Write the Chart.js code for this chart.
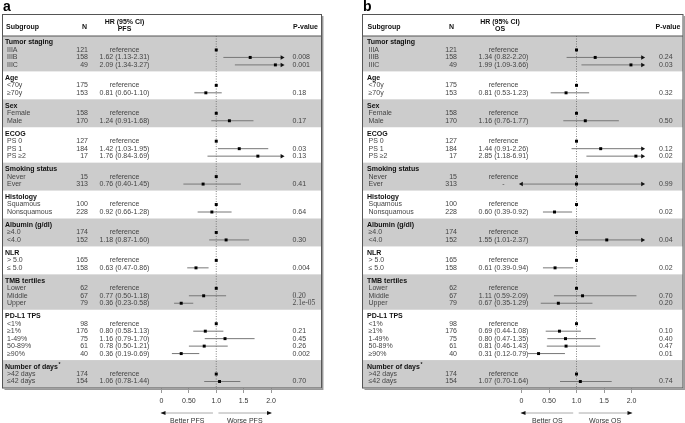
<html>
<head>
<meta charset="utf-8">
<script src="https://cdn.jsdelivr.net/npm/chart.js@4/dist/chart.umd.min.js"></script>
<style>
  *{padding:0; margin:0;}
  body{background:#fff; width:685px; height:423px; position:relative; overflow:hidden;}
  #wa{position:absolute; left:0; top:0; width:342px; height:423px;}
  #wb{position:absolute; left:342px; top:0; width:343px; height:423px;}
</style>
</head>
<body>
<div id="wa"><canvas id="chartA" width="342" height="423"></canvas></div>
<div id="wb"><canvas id="chartB" width="343" height="423"></canvas></div>
<script>
// ---- data ----
var groups = ['Tumor staging', 'Age', 'Sex', 'ECOG', 'Smoking status', 'Histology',
              'Albumin (g/dl)', 'NLR', 'TMB tertiles', 'PD-L1 TPS', 'Number of days*'];
var groupSizes = [3, 2, 2, 3, 2, 2, 2, 2, 3, 5, 2];
var subgroups = ['IIIA', 'IIIB', 'IIIC', '<70y', '\u226570y', 'Female', 'Male',
                 'PS 0', 'PS 1', 'PS \u22652', 'Never', 'Ever', 'Squamous', 'Nonsquamous',
                 '\u22654.0', '<4.0', '> 5.0', '\u2264 5.0', 'Lower', 'Middle', 'Upper',
                 '<1%', '\u22651%', '1-49%', '50-89%', '\u226590%', '>42 days', '\u226442 days'];
var nPatients = [121, 158, 49, 175, 153, 158, 170, 127, 184, 17, 15, 313, 100, 228,
                 174, 152, 165, 158, 62, 67, 79, 98, 176, 75, 61, 40, 174, 154];

// PFS (panel a)
var hrPFS = [null, 1.62, 2.09, null, 0.81, null, 1.24, null, 1.42, 1.76, null, 0.76, null, 0.92,
             null, 1.18, null, 0.63, null, 0.77, 0.36, null, 0.80, 1.16, 0.78, 0.36, null, 1.06];
var loPFS = [null, 1.13, 1.34, null, 0.60, null, 0.91, null, 1.03, 0.84, null, 0.40, null, 0.66,
             null, 0.87, null, 0.47, null, 0.50, 0.23, null, 0.58, 0.79, 0.50, 0.19, null, 0.78];
var hiPFS = [null, 2.31, 3.27, null, 1.10, null, 1.68, null, 1.95, 3.69, null, 1.45, null, 1.28,
             null, 1.60, null, 0.86, null, 1.18, 0.58, null, 1.13, 1.70, 1.21, 0.69, null, 1.44];
var pPFS = ['', '0.008', '0.001', '', '0.18', '', '0.17', '', '0.03', '0.13', '', '0.41', '', '0.64',
            '', '0.30', '', '0.004', '', '0.20', '2.1e-05', '', '0.21', '0.45', '0.26', '0.002', '', '0.70'];

// OS (panel b); "Ever" is not estimable (drawn at 1 with open interval)
var hrOS = [null, 1.34, 1.99, null, 0.81, null, 1.16, null, 1.44, 2.85, null, 1.00, null, 0.60,
            null, 1.55, null, 0.61, null, 1.11, 0.67, null, 0.69, 0.80, 0.81, 0.31, null, 1.07];
var loOS = [null, 0.82, 1.09, null, 0.53, null, 0.76, null, 0.91, 1.18, null, 0.00, null, 0.39,
            null, 1.01, null, 0.39, null, 0.59, 0.35, null, 0.44, 0.47, 0.46, 0.12, null, 0.70];
var hiOS = [null, 2.20, 3.66, null, 1.23, null, 1.77, null, 2.26, 6.91, null, 9.99, null, 0.92,
            null, 2.37, null, 0.94, null, 2.09, 1.29, null, 1.08, 1.35, 1.43, 0.79, null, 1.64];
var pOS = ['', '0.24', '0.03', '', '0.32', '', '0.50', '', '0.12', '0.02', '', '0.99', '', '0.02',
           '', '0.04', '', '0.02', '', '0.70', '0.20', '', '0.10', '0.40', '0.47', '0.01', '', '0.74'];
var notEstimableOS = [11];

var tickVals = [0, 0.5, 1, 1.5, 2];
var tickLabels = ['0', '0.50', '1.0', '1.5', '2.0'];

// ---- layout helpers ----
var FONT = "'Liberation Sans', Arial, sans-serif";
var PAD = 0.87;            // half gap above/below a group, in row units
var XMAX = 2.3, XCAP = 2.2, ARROW_AT = 2.12, PCAP = 2.08;

var rowY = [], headY = [], bands = [];
(function () {
    var y = 0;
    groupSizes.forEach(function (n) {
        var top = y;
        headY.push(top + PAD);
        for (var k = 1; k <= n; k++) rowY.push(top + PAD + k);
        y = top + PAD + n + PAD;
        bands.push([top, y]);
    });
})();
var yMax = bands[bands.length - 1][1];

function hrText(hr, lo, hi, i, ne) {
    if (hr[i] === null) return 'reference';
    if (ne && ne.indexOf(i) >= 0) return '-';
    return hr[i].toFixed(2) + ' (' + lo[i].toFixed(2) + '-' + hi[i].toFixed(2) + ')';
}

function buildDatasets(hr, lo, hi) {
    var pts = rowY.map(function (y, i) {
        return {x: hr[i] === null ? 1 : Math.min(hr[i], PCAP), y: y};
    });
    var ds = [{
        data: pts, order: 0, clip: false,
        pointStyle: 'rect', pointRadius: 2.1, backgroundColor: '#000', borderWidth: 0
    }];
    rowY.forEach(function (y, i) {
        if (lo[i] === null) return;
        var arrL = lo[i] <= 0, arrR = hi[i] > ARROW_AT;
        ds.push({
            data: [{x: Math.max(lo[i], 0), y: y}, {x: arrR ? XCAP : hi[i], y: y}],
            showLine: true, order: 1, clip: false,
            borderColor: '#777', borderWidth: 1,
            pointStyle: 'triangle',
            pointRadius: [arrL ? 2.6 : 0, arrR ? 2.6 : 0],
            pointRotation: [-90, 90],
            pointBackgroundColor: '#111', pointBorderColor: '#111', pointBorderWidth: 0
        });
    });
    return ds;
}

function tablePlugin(P) {
    return {
        id: 'forestTable',
        beforeDatasetsDraw: function (chart) {
            var ctx = chart.ctx, xs = chart.scales.x, ys = chart.scales.y, ca = chart.chartArea;
            ctx.save();
            // grey bands
            bands.forEach(function (b, g) {
                if (g % 2 !== 0) return;
                var t = ys.getPixelForValue(b[0]), bt = ys.getPixelForValue(b[1]);
                ctx.fillStyle = '#cccccc';
                ctx.fillRect(P.boxL, t, P.boxR - P.boxL, bt - t);
            });
            // reference line at HR = 1
            var x1 = xs.getPixelForValue(1);
            ctx.strokeStyle = '#666';
            ctx.lineWidth = 0.8;
            ctx.setLineDash([1, 1.5]);
            ctx.beginPath(); ctx.moveTo(x1, ca.top); ctx.lineTo(x1, ca.bottom); ctx.stroke();
            ctx.setLineDash([]);

            // panel letter
            ctx.fillStyle = '#000';
            ctx.textBaseline = 'middle';
            ctx.textAlign = 'left';
            ctx.font = 'bold 14px ' + FONT;
            ctx.fillText(P.letter, P.letterX, 7);

            // header
            ctx.font = 'bold 7px ' + FONT;
            ctx.fillStyle = '#111';
            ctx.fillText('Subgroup', P.subHeadX, 27);
            ctx.fillText('P-value', P.pHeadX, 27);
            ctx.textAlign = 'center';
            ctx.fillText('N', P.nHeadX, 27);
            ctx.fillText('HR (95% CI)', P.hrHeadX, 22);
            ctx.fillText(P.outcome, P.hrHeadX, 29.5);

            // group heads
            ctx.textAlign = 'left';
            groups.forEach(function (g, k) {
                var y = ys.getPixelForValue(headY[k]);
                ctx.font = 'bold 7px ' + FONT;
                ctx.fillStyle = '#111';
                if (g.charAt(g.length - 1) === '*') {
                    var s = g.slice(0, -1);
                    ctx.fillText(s, P.headX, y);
                    var w = ctx.measureText(s).width;
                    ctx.font = 'bold 5px ' + FONT;
                    ctx.fillText('*', P.headX + w + 0.5, y - 2);
                } else {
                    ctx.fillText(g, P.headX, y);
                }
            });
            // rows
            ctx.font = '7px ' + FONT;
            ctx.fillStyle = '#444';
            rowY.forEach(function (yv, i) {
                var y = ys.getPixelForValue(yv);
                ctx.textAlign = 'left';
                ctx.fillText(subgroups[i], P.itemX, y);
                ctx.textAlign = 'right';
                ctx.fillText(String(nPatients[i]), P.nX, y);
                ctx.textAlign = 'center';
                ctx.fillText(hrText(P.hr, P.lo, P.hi, i, P.ne), P.hrX, y);
                ctx.textAlign = 'left';
                if (P.serifP && P.serifP.indexOf(i) >= 0) {
                    ctx.font = '7.5px "Liberation Serif", serif';
                    ctx.fillText(P.p[i], P.pX, y);
                    ctx.font = '7px ' + FONT;
                } else {
                    ctx.fillText(P.p[i], P.pX, y);
                }
            });

            // box
            ctx.strokeStyle = '#555';
            ctx.lineWidth = 1;
            ctx.strokeRect(P.boxL, 14.5, P.boxR - P.boxL, ca.bottom - 14.5);
            ctx.beginPath(); ctx.moveTo(P.boxL, 36); ctx.lineTo(P.boxR, 36); ctx.stroke();
            ctx.strokeStyle = '#999';
            ctx.lineWidth = 1.5;
            ctx.beginPath();
            ctx.moveTo(P.boxR + 1.2, 16); ctx.lineTo(P.boxR + 1.2, ca.bottom + 1.2);
            ctx.lineTo(P.boxL + 2, ca.bottom + 1.2);
            ctx.stroke();

            // better / worse arrows under the axis
            var yA = 413, x0 = xs.getPixelForValue(0), xl = xs.getPixelForValue(0.94),
                xr = xs.getPixelForValue(1.04), x2 = xs.getPixelForValue(2);
            ctx.strokeStyle = '#aaa';
            ctx.lineWidth = 1;
            ctx.beginPath(); ctx.moveTo(x0, yA); ctx.lineTo(xl, yA); ctx.stroke();
            ctx.beginPath(); ctx.moveTo(xr, yA); ctx.lineTo(x2, yA); ctx.stroke();
            ctx.fillStyle = '#111';
            ctx.beginPath(); ctx.moveTo(x0 - 1, yA); ctx.lineTo(x0 + 4, yA - 2); ctx.lineTo(x0 + 4, yA + 2); ctx.fill();
            ctx.beginPath(); ctx.moveTo(x2 + 1, yA); ctx.lineTo(x2 - 4, yA - 2); ctx.lineTo(x2 - 4, yA + 2); ctx.fill();
            ctx.fillStyle = '#333';
            ctx.font = '7px ' + FONT;
            ctx.textAlign = 'center';
            ctx.fillText('Better ' + P.outcome, (x0 + xl) / 2, 421);
            ctx.fillText('Worse ' + P.outcome, (xr + x2) / 2, 421);
            ctx.restore();
        }
    };
}

function makeChart(P) {
    var ctx = document.getElementById(P.canvas).getContext('2d');
    return new Chart(ctx, {
        type: 'scatter',
        data: {datasets: buildDatasets(P.hr, P.lo, P.hi)},
        options: {
            responsive: false,
            animation: false,
            events: [],
            layout: {padding: {left: P.padL, right: P.padR, top: 36, bottom: 13.6}},
            plugins: {legend: {display: false}, tooltip: {enabled: false}},
            scales: {
                x: {
                    type: 'linear', min: 0, max: XMAX,
                    afterBuildTicks: function (s) { s.ticks = tickVals.map(function (v) { return {value: v}; }); },
                    ticks: {
                        callback: function (v, i) { return tickLabels[i]; },
                        font: {family: FONT, size: 7}, color: '#333', padding: 4,
                        maxRotation: 0, autoSkip: false
                    },
                    grid: {drawOnChartArea: false, drawTicks: true, tickLength: 5, color: '#999'},
                    border: {display: false}
                },
                y: {type: 'linear', min: 0, max: yMax, reverse: true, display: false}
            }
        },
        plugins: [tablePlugin(P)]
    });
}

makeChart({
    canvas: 'chartA', letter: 'a', letterX: 3, outcome: 'PFS',
    boxL: 2.5, boxR: 321.5, subHeadX: 6, headX: 5, itemX: 7,
    nX: 88, nHeadX: 84.5, hrX: 124.5, hrHeadX: 124.5, pX: 292.5, pHeadX: 293,
    padL: 161.5, padR: 342 - (161.5 + XMAX * 54.75),
    hr: hrPFS, lo: loPFS, hi: hiPFS, p: pPFS, serifP: [19, 20]
});
makeChart({
    canvas: 'chartB', letter: 'b', letterX: 21, outcome: 'OS',
    boxL: 20.5, boxR: 341, subHeadX: 25.5, headX: 25, itemX: 26.5,
    nX: 115, nHeadX: 109.5, hrX: 161.5, hrHeadX: 158, pX: 317, pHeadX: 313.5,
    padL: 179.5, padR: 343 - (179.5 + XMAX * 55),
    hr: hrOS, lo: loOS, hi: hiOS, p: pOS, ne: notEstimableOS
});
</script>
</body>
</html>
